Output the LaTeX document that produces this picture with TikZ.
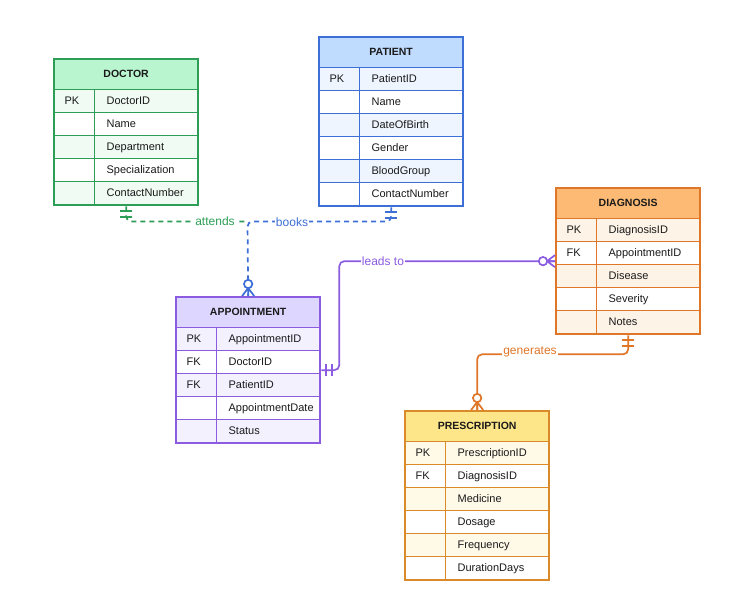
\documentclass[tikz,border=0pt]{standalone}
\usepackage{fontspec}
\setmainfont{Liberation Sans}
\usetikzlibrary{fit}
\definecolor{gline}{HTML}{2E9E57}\definecolor{ghead}{HTML}{B9F5CE}\definecolor{gtint}{HTML}{EFFBF3}
\definecolor{bline}{HTML}{3D6FD6}\definecolor{bhead}{HTML}{BFDBFE}\definecolor{btint}{HTML}{EEF5FF}
\definecolor{oline}{HTML}{DF7628}\definecolor{ohead}{HTML}{FDBA74}\definecolor{otint}{HTML}{FDF3E6}
\definecolor{pline}{HTML}{8B5CE0}\definecolor{phead}{HTML}{DDD6FE}\definecolor{ptint}{HTML}{F4F1FF}
\definecolor{yline}{HTML}{DB8A2A}\definecolor{yhead}{HTML}{FDE68A}\definecolor{ytint}{HTML}{FFF9E8}
\definecolor{txt}{HTML}{1A1A1A}
\tikzset{
  hdrbox/.style={anchor=north west, line width=1.3pt, text width=143pt, inner xsep=0pt, inner ysep=0pt,
    align=center, minimum height=30pt, text height=8pt, text depth=2pt, text=txt,
    font=\fontsize{10.5}{12}\selectfont\bfseries},
  keybox/.style={anchor=north west, line width=1.3pt, text width=20pt, inner xsep=10pt, inner ysep=0pt,
    align=left, minimum height=23pt, text height=8pt, text depth=2pt, text=txt,
    font=\fontsize{11}{13}\selectfont},
  fldbox/.style={anchor=north west, line width=1.3pt, text width=79pt, inner xsep=12pt, inner ysep=0pt,
    align=left, minimum height=23pt, text height=8pt, text depth=2pt, text=txt,
    font=\fontsize{11}{13}\selectfont},
  frame/.style={line width=2pt, inner sep=0pt},
  conn/.style={line width=1.7pt, rounded corners=5pt},
  rlabel/.style={fill=white, inner xsep=1pt, inner ysep=1pt, font=\fontsize{12}{14}\selectfont},
  dsh/.style={dash pattern=on 5pt off 4pt},
  one/.pic={\draw[line width=1.7pt] (5,-6) -- (5,6) (11,-6) -- (11,6);},
  zmany/.pic={\draw[line width=1.7pt] (0,-6) -- (8,0) -- (0,6) (0,0) -- (8,0);
              \draw[line width=1.7pt, fill=white] (12,0) circle (4.2pt);},
}
\newcommand\ertable[7]{%
  \node[hdrbox, draw=#5line, fill=#5head] (#1) at (#2,#3) {#4};
  \foreach[count=\i] \k/\f in {#6}{%
    \pgfmathsetmacro\ry{#3+30+(\i-1)*23}%
    \ifodd\i\def\rf{#5tint}\else\def\rf{white}\fi
    \node[keybox, draw=#5line, fill=\rf] (#1-k\i) at (#2,\ry) {\k};
    \node[fldbox, draw=#5line, fill=\rf] (#1-f\i) at (#2+40,\ry) {\f};
  }
  \node[frame, draw=#5line, fit=(#1)(#1-f#7)] (#1-all) {};
}
\begin{document}
\begin{tikzpicture}[x=1pt, y=-1pt]
\useasboundingbox[fill=white] (0,0) rectangle (748,598);
\ertable{doc}{54}{59}{DOCTOR}{g}{PK/DoctorID, /Name, /Department, /Specialization, /ContactNumber}{5}
\ertable{pat}{319}{37}{PATIENT}{b}{PK/PatientID, /Name, /DateOfBirth, /Gender, /BloodGroup, /ContactNumber}{6}
\ertable{dia}{556}{188}{DIAGNOSIS}{o}{PK/DiagnosisID, FK/AppointmentID, /Disease, /Severity, /Notes}{5}
\ertable{app}{176}{297}{APPOINTMENT}{p}{PK/AppointmentID, FK/DoctorID, FK/PatientID, /AppointmentDate, /Status}{5}
\ertable{pre}{405}{411}{PRESCRIPTION}{y}{PK/PrescriptionID, FK/DiagnosisID, /Medicine, /Dosage, /Frequency, /DurationDays}{6}

\coordinate (jn) at (247.5,221.5);
\draw[conn, gline, dsh] (doc-all.south) |- (jn);
\draw[conn, bline, dsh] (pat-all.south) |- (jn) -- (app-all.north);
\draw[conn, pline] (app-all.east) -- ++(18,0) |- (dia-all.west);
\draw[conn, oline] (dia-all.south) -- ++(0,19) -| (pre-all.north);

\node[rlabel, text=gline] (l1) at (215,221) {attends};
\node[rlabel, text=bline] (l2) at (292,222) {books};
\node[rlabel, text=pline] (l3) at (383,261) {leads to};
\node[rlabel, text=oline] (l4) at (530,352) {generates};

\pic[color=gline, rotate=-90] at (doc-all.south) {one};
\pic[color=bline, rotate=-90] at (pat-all.south) {one};
\pic[color=bline, rotate=90] at (app-all.north) {zmany};
\pic[color=pline] at (app-all.east) {one};
\pic[color=pline, rotate=180] at (dia-all.west) {zmany};
\pic[color=oline, rotate=-90] at (dia-all.south) {one};
\pic[color=oline, rotate=90] at (pre-all.north) {zmany};
\end{tikzpicture}
\end{document}
